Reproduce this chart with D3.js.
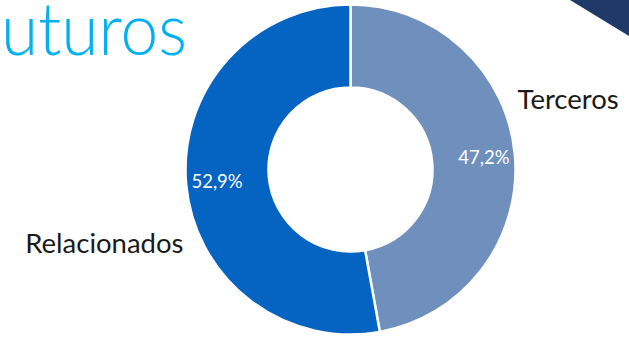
<!DOCTYPE html>
<html>
<head>
<meta charset="utf-8">
<script src="https://cdn.jsdelivr.net/npm/d3@7"></script>
<style>
  html, body { margin: 0; padding: 0; background: #ffffff; }
  svg { display: block; }
</style>
</head>
<body>
<svg id="chart" width="629" height="340"></svg>
<script>
// Shares of the portfolio by counterparty type
const categories = ["Terceros", "Relacionados"];
const shares = [47.2, 52.9];
const shareLabels = ["47,2%", "52,9%"];
const colors = ["#6f8fbd", "#0563c1"];
const heading = "uturos";

const width = 629, height = 340;
const cx = 350.5, cy = 169.5;
const outerR = 165, innerR = 82;

const svg = d3.select("#chart");

// Page heading at the top-left edge
svg.append("text")
  .attr("x", 1)
  .attr("y", 55)
  .attr("font-family", "Lato, 'Open Sans', sans-serif")
  .attr("font-weight", 300)
  .attr("font-size", 72)
  .attr("fill", "#00b0f0")
  .attr("textLength", 186)
  .attr("lengthAdjust", "spacingAndGlyphs")
  .text(heading);

// Decorative corner band
svg.append("path")
  .attr("d", `M570,0 L${width},0 L${width},36 Z`)
  .attr("fill", "#1f3a68");

const pie = d3.pie().sort(null).value(d => d)(shares);
const arc = d3.arc().innerRadius(innerR).outerRadius(outerR);
const labelArc = d3.arc().innerRadius(134).outerRadius(134);

const g = svg.append("g").attr("transform", `translate(${cx},${cy})`);

g.selectAll("path.slice")
  .data(pie)
  .join("path")
  .attr("class", "slice")
  .attr("d", arc)
  .attr("fill", (d, i) => colors[i])
  .attr("stroke", "#ffffff")
  .attr("stroke-width", 2.5);

g.selectAll("text.pct")
  .data(pie)
  .join("text")
  .attr("class", "pct")
  .attr("transform", d => `translate(${labelArc.centroid(d)})`)
  .attr("text-anchor", "middle")
  .attr("dy", "0.35em")
  .attr("font-family", "Lato, 'Open Sans', sans-serif")
  .attr("font-size", 18.5)
  .attr("fill", "#ffffff")
  .text((d, i) => shareLabels[i]);

// Category names outside the ring
const catPos = [
  { x: outerR + 2, y: -61, anchor: "start" },
  { x: -outerR - 2, y: 83, anchor: "end" }
];
g.selectAll("text.cat")
  .data(categories)
  .join("text")
  .attr("class", "cat")
  .attr("x", (d, i) => catPos[i].x)
  .attr("y", (d, i) => catPos[i].y)
  .attr("text-anchor", (d, i) => catPos[i].anchor)
  .attr("font-family", "Lato, 'Open Sans', sans-serif")
  .attr("font-size", 27.5)
  .attr("fill", "#1a1a1a")
  .text(d => d);
</script>
</body>
</html>
